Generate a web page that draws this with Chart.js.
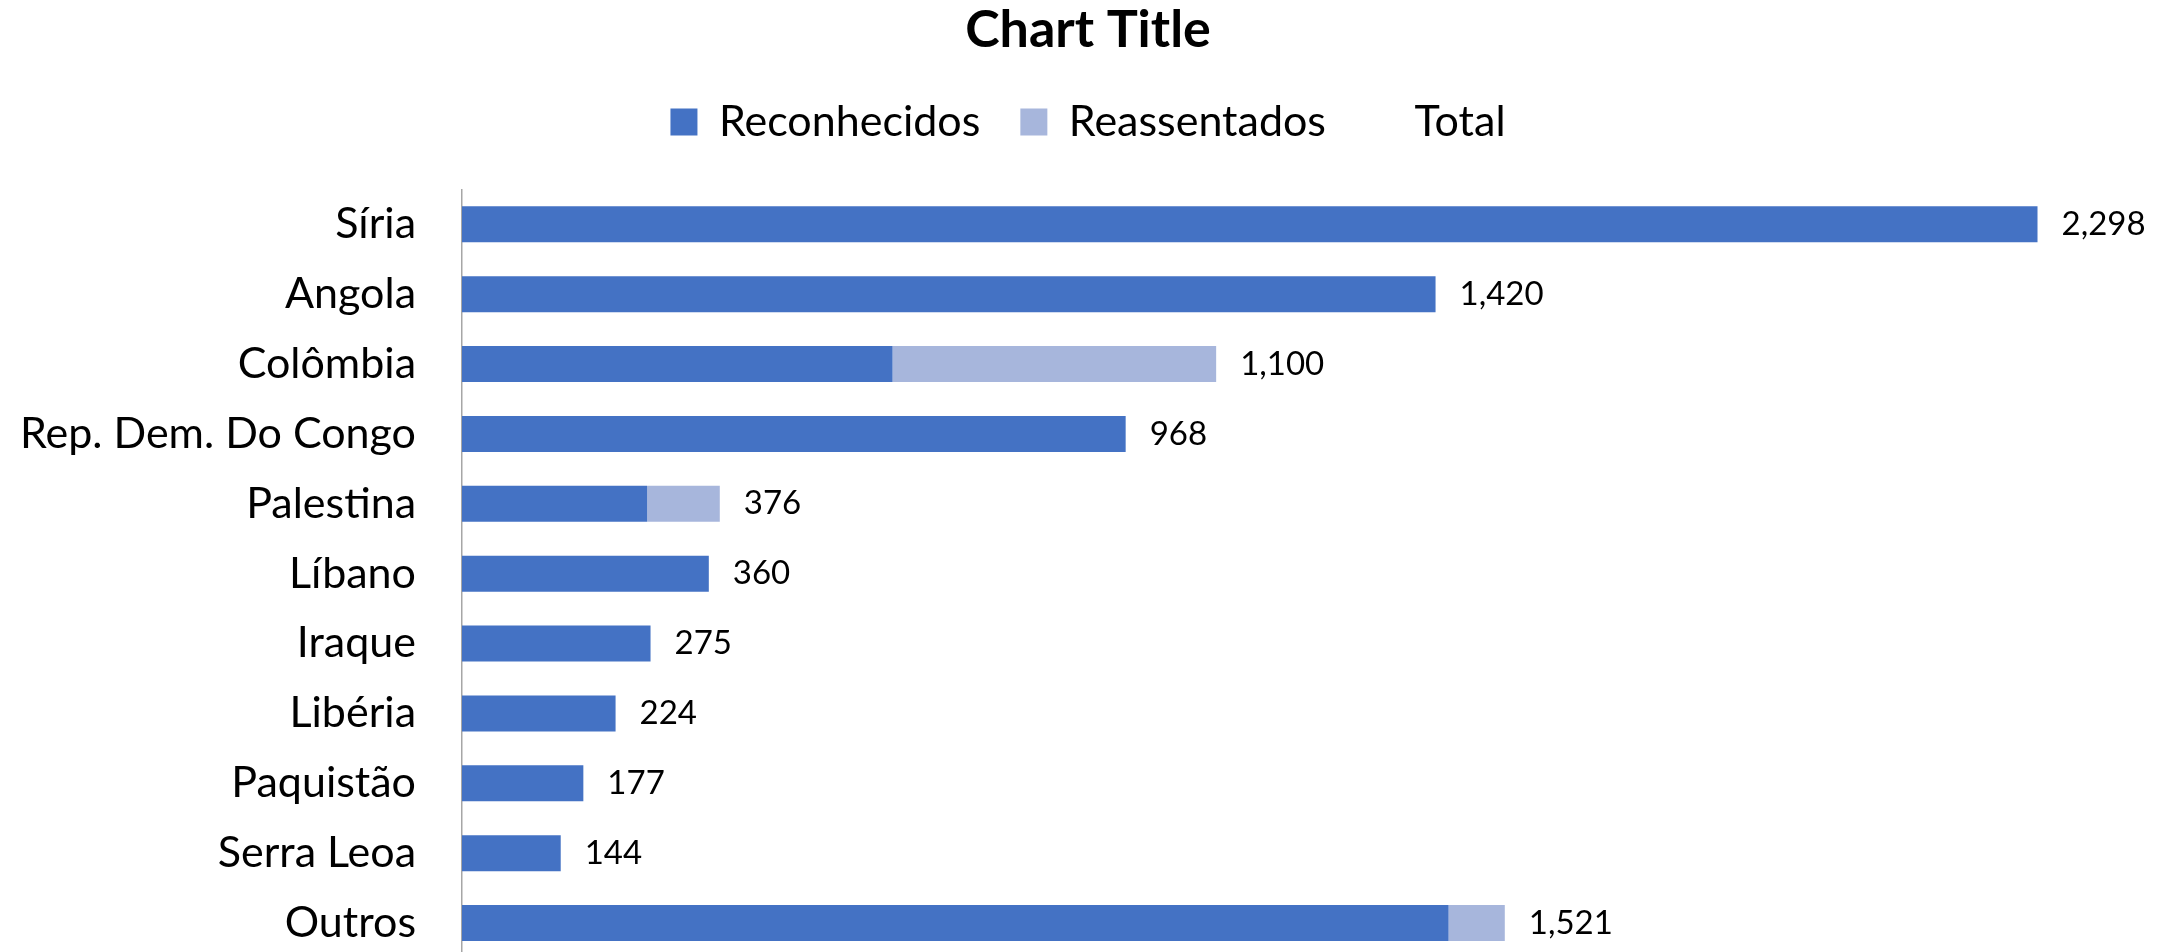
<!DOCTYPE html>
<html>
<head>
<meta charset="utf-8">
<title>Chart Title</title>
<script src="https://cdn.jsdelivr.net/npm/chart.js@4.4.1/dist/chart.umd.min.js"></script>
<style>
  html, body { margin: 0; padding: 0; background: #fff; overflow: hidden; }
  canvas { display: block; }
</style>
</head>
<body>
<canvas id="chart" width="2176" height="958"></canvas>
<script>
// ===== DATA =====
const countries = ['Síria', 'Angola', 'Colômbia', 'Rep. Dem. Do Congo', 'Palestina', 'Líbano',
  'Iraque', 'Libéria', 'Paquistão', 'Serra Leoa', 'Outros'];
const reconhecidos = [2298, 1420, 628, 968, 270, 360, 275, 224, 177, 144, 1439];
const reassentados = [0, 0, 472, 0, 106, 0, 0, 0, 0, 0, 82];
const totals = [2298, 1420, 1100, 968, 376, 360, 275, 224, 177, 144, 1521];

const FONT = 'Lato, "Open Sans", sans-serif';
Chart.defaults.font.family = FONT;
Chart.defaults.color = '#000';

// labels for the invisible "Total" series, just right of each stacked bar
const totalLabels = {
  id: 'totalLabels',
  afterDatasetsDraw(chart) {
    const meta = chart.getDatasetMeta(2);
    const ctx = chart.ctx;
    ctx.save();
    ctx.font = '33px ' + FONT;
    ctx.fillStyle = '#000';
    ctx.textAlign = 'left';
    ctx.textBaseline = 'middle';
    meta.data.forEach((pt, i) => {
      ctx.fillText(totals[i].toLocaleString('en-US'), pt.x + 24, pt.y);
    });
    ctx.restore();
  }
};

// extra room between the legend and the plot area
const legendGap = {
  id: 'legendGap',
  afterInit(chart) {
    const legend = chart.legend;
    if (!legend) return;
    const fit = legend.fit;
    legend.fit = function () {
      fit.call(this);
      this.height += 36;
    };
  }
};

const ctx = document.getElementById('chart').getContext('2d');
new Chart(ctx, {
  type: 'bar',
  data: {
    labels: countries,
    datasets: [
      {
        label: 'Reconhecidos',
        data: reconhecidos,
        backgroundColor: '#4472C4',
        stack: 'main',
        categoryPercentage: 1,
        barPercentage: 0.515
      },
      {
        label: 'Reassentados',
        data: reassentados,
        backgroundColor: '#A7B6DC',
        stack: 'main',
        categoryPercentage: 1,
        barPercentage: 0.515
      },
      {
        type: 'line',
        label: 'Total',
        data: totals,
        stack: 'total',
        showLine: false,
        pointRadius: 0,
        borderColor: 'rgba(0,0,0,0)',
        backgroundColor: 'rgba(0,0,0,0)'
      }
    ]
  },
  options: {
    indexAxis: 'y',
    responsive: false,
    animation: false,
    layout: { padding: 0 },
    plugins: {
      title: {
        display: true,
        text: 'Chart Title',
        color: '#000',
        font: { size: 52, weight: 'bold', lineHeight: 0.7 },
        padding: { top: 12, bottom: 12 }
      },
      legend: {
        position: 'top',
        labels: {
          color: '#000',
          font: { size: 43 },
          boxWidth: 27,
          boxHeight: 27,
          padding: 40
        }
      },
      tooltip: { enabled: false }
    },
    scales: {
      x: {
        stacked: true,
        min: 0,
        max: 2500,
        display: false
      },
      y: {
        stacked: true,
        grid: { display: false, drawTicks: false },
        border: { display: true, color: '#a6a6a6', width: 1.5 },
        ticks: { color: '#000', font: { size: 43 }, padding: 46 },
        afterFit(scale) {
          // left edge of the plot at the axis line; plot runs to the bottom edge
          scale.width = 462;
          scale.paddingTop = 0;
          scale.paddingBottom = 0;
        }
      }
    }
  },
  plugins: [totalLabels, legendGap]
});
</script>
</body>
</html>
